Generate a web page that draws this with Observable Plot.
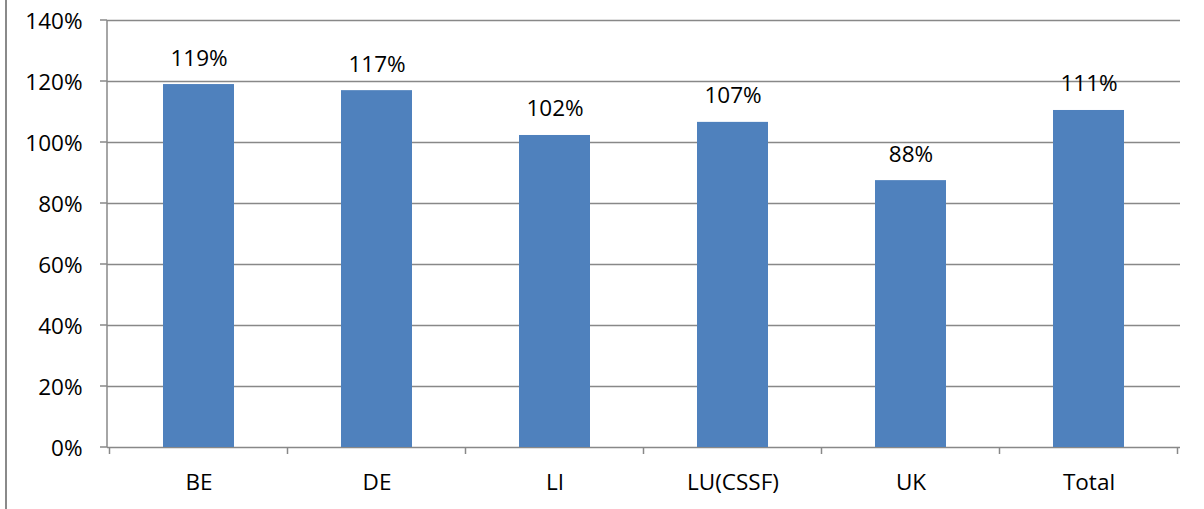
<!DOCTYPE html>
<html>
<head>
<meta charset="utf-8">
<script src="https://cdn.jsdelivr.net/npm/d3@7"></script>
<script src="https://cdn.jsdelivr.net/npm/@observablehq/plot@0.6"></script>
<style>
  html, body { margin: 0; padding: 0; background: #fff; }
  #wrap { position: relative; width: 1204px; height: 509px; }
  #border { position: absolute; left: 5px; top: 0; width: 2px; height: 509px; background: #8a8a8a; }
  svg { font-family: "Open Sans", "Liberation Sans", sans-serif; }
</style>
</head>
<body>
<div id="wrap"><div id="border"></div></div>
<script>
const categories = ["BE", "DE", "LI", "LU(CSSF)", "UK", "Total"];
const values = [1.19, 1.17, 1.023, 1.066, 0.875, 1.105];
const valueLabels = ["119%", "117%", "102%", "107%", "88%", "111%"];
const yTicks = [0, 0.2, 0.4, 0.6, 0.8, 1.0, 1.2, 1.4];

const data = categories.map((c, i) => ({cat: c, value: values[i], label: valueLabels[i]}));

const axisColor = "#888888";
const barColor = "#4F81BD";
const fontSize = 22.5;

function axisFrame(index, scales, channels, dimensions) {
  const {marginLeft, marginTop} = dimensions;
  const x = scales.x, y = scales.y;
  const bw = x.bandwidth();
  const step = x.step();
  const g = d3.create("svg:g").attr("stroke", axisColor).attr("stroke-width", 1.5).attr("fill", "none");
  const y0 = y(0);
  g.append("line").attr("x1", marginLeft).attr("x2", marginLeft).attr("y1", marginTop).attr("y2", y0);
  for (const t of yTicks) {
    g.append("line").attr("x1", marginLeft - 7).attr("x2", marginLeft).attr("y1", y(t)).attr("y2", y(t));
  }
  const bounds = categories.map(c => x(c) - (step - bw) / 2);
  bounds.push(x(categories[categories.length - 1]) + bw + (step - bw) / 2);
  for (const b of bounds) {
    g.append("line").attr("x1", b).attr("x2", b).attr("y1", y0).attr("y2", y0 + 7);
  }
  return g.node();
}

const chart = Plot.plot({
  width: 1204,
  height: 509,
  marginLeft: 107,
  marginRight: 24,
  marginTop: 20,
  marginBottom: 62,
  style: {fontFamily: "'Open Sans', 'Liberation Sans', sans-serif", background: "transparent"},
  x: {domain: categories, paddingInner: 0.6, paddingOuter: 0.3, label: null},
  y: {domain: [0, 1.4], label: null},
  marks: [
    Plot.gridY(yTicks, {stroke: axisColor, strokeOpacity: 1, strokeWidth: 1.5}),
    Plot.barY(data, {x: "cat", y: "value", fill: barColor}),
    Plot.text(data, {x: "cat", y: "value", text: "label", lineAnchor: "bottom", dy: -19, fontSize, fill: "#000"}),
    Plot.axisY(yTicks, {tickSize: 0, tickPadding: 25, dy: 1, fontSize, fill: "#000", tickFormat: d3.format(".0%"), label: null}),
    Plot.axisX({tickSize: 0, tickPadding: 27, fontSize, fill: "#000", label: null}),
    axisFrame
  ]
});
document.getElementById("wrap").appendChild(chart);
chart.style.position = "absolute";
chart.style.left = "0";
chart.style.top = "0";
</script>
</body>
</html>
